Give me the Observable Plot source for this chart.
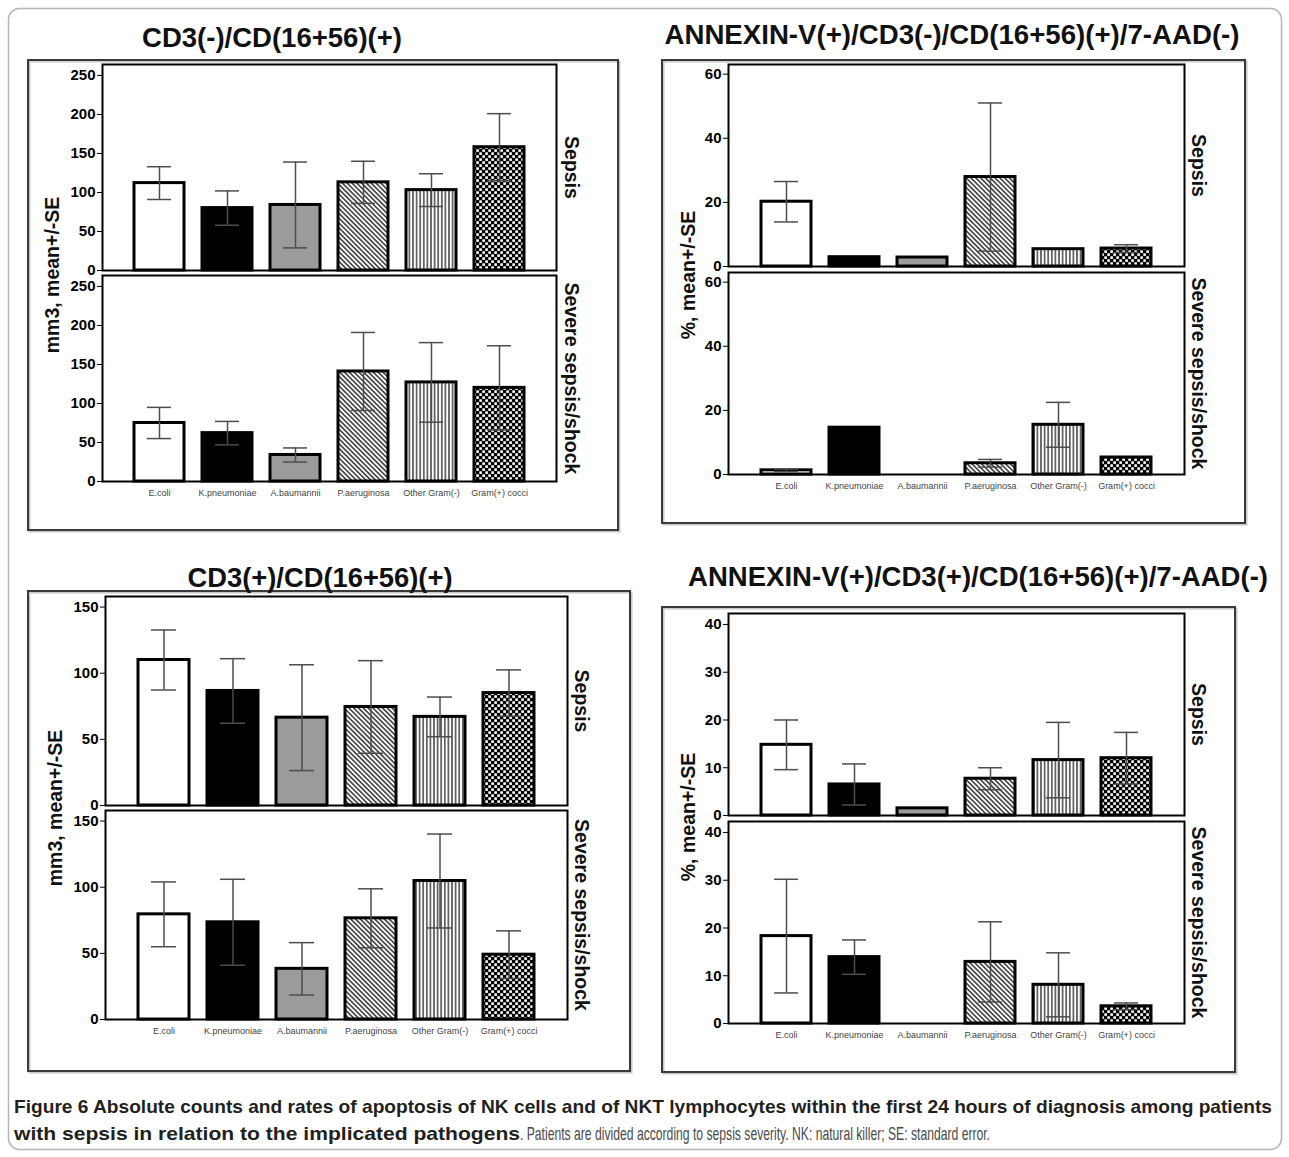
<!DOCTYPE html>
<html>
<head>
<meta charset="utf-8">
<script src="https://cdn.jsdelivr.net/npm/d3@7"></script>
<script src="https://cdn.jsdelivr.net/npm/@observablehq/plot@0.6"></script>
<style>
html,body{margin:0;padding:0;background:#fff;}
#fig{position:relative;width:1289px;height:1157px;overflow:hidden;font-family:"Liberation Sans",Arial,sans-serif;}
.plotwrap{position:absolute;}
.plotwrap svg{overflow:visible;}
.plotwrap [aria-label="y-axis tick label"], .plotwrap [aria-label="y-axis"] text{font-weight:bold;font-size:15px;}
.plotwrap [aria-label="x-axis tick label"], .plotwrap [aria-label="x-axis"] text{font-size:9px;fill:#444;color:#444;}
</style>
</head>
<body>
<svg width="0" height="0" style="position:absolute">
  <defs>
    <pattern id="hatch" patternUnits="userSpaceOnUse" width="3.4" height="3.4" patternTransform="rotate(-45)">
      <rect width="3.4" height="3.4" fill="white"/>
      <line x1="1.7" y1="0" x2="1.7" y2="3.4" stroke="black" stroke-width="1.2"/>
    </pattern>
    <pattern id="vlines" patternUnits="userSpaceOnUse" width="3.6" height="10">
      <rect width="3.6" height="10" fill="white"/>
      <line x1="1.8" y1="0" x2="1.8" y2="10" stroke="black" stroke-width="1.1"/>
    </pattern>
    <pattern id="checker" patternUnits="userSpaceOnUse" width="6" height="6">
      <rect width="6" height="6" fill="black"/>
      <rect x="0.3" y="0.3" width="2.6" height="2.6" fill="white"/>
      <rect x="3.3" y="3.3" width="2.6" height="2.6" fill="white"/>
    </pattern>
  </defs>
</svg>
<div id="fig"></div>
<script>
// ---------------- data ----------------
const pathogens = ["E.coli", "K.pneumoniae", "A.baumannii", "P.aeruginosa", "Other Gram(-)", "Gram(+) cocci"];
const severities = ["Sepsis", "Severe sepsis/shock"];

// CD3(-)/CD(16+56)(+)  (mm3, mean +/- SE)
const nkSepsisMean = [112, 80, 84, 113, 103, 158];
const nkSepsisSE   = [21, 22, 55, 27, 21, 43];
const nkSevereMean = [75, 62, 34, 141, 127, 120];
const nkSevereSE   = [20, 15, 9, 50, 51, 54];

// ANNEXIN-V(+)/CD3(-)/CD(16+56)(+)/7-AAD(-)  (%, mean +/- SE)
const nkApoSepsisMean = [20.2, 2.9, 2.8, 27.9, 5.4, 5.6];
const nkApoSepsisSE   = [6.3, 0, 0, 23.1, 0, 1.2];
const nkApoSevereMean = [1.3, 14.6, 0, 3.5, 15.5, 5.3];
const nkApoSevereSE   = [0.4, 0, 0, 1.2, 7, 0];

// CD3(+)/CD(16+56)(+)  (mm3, mean +/- SE)
const nktSepsisMean = [110, 86.6, 66.4, 74.5, 67, 85];
const nktSepsisSE   = [22.7, 24.4, 40, 35, 15, 17.5];
const nktSevereMean = [79.5, 73.5, 38.3, 76.5, 104.7, 49];
const nktSevereSE   = [24.5, 32.5, 19.8, 22.3, 35.5, 18];

// ANNEXIN-V(+)/CD3(+)/CD(16+56)(+)/7-AAD(-)  (%, mean +/- SE)
const nktApoSepsisMean = [14.8, 6.5, 1.5, 7.7, 11.6, 12];
const nktApoSepsisSE   = [5.2, 4.3, 0, 2.3, 7.9, 5.4];
const nktApoSevereMean = [18.3, 13.9, 0, 12.9, 8.1, 3.6];
const nktApoSevereSE   = [11.9, 3.6, 0, 8.4, 6.7, 0.7];

const titles = [
  "CD3(-)/CD(16+56)(+)",
  "ANNEXIN-V(+)/CD3(-)/CD(16+56)(+)/7-AAD(-)",
  "CD3(+)/CD(16+56)(+)",
  "ANNEXIN-V(+)/CD3(+)/CD(16+56)(+)/7-AAD(-)"
];
const yLabels = ["mm3, mean+/-SE", "%, mean+/-SE"];
const captionBold1 = "Figure 6 Absolute counts and rates of apoptosis of NK cells and of NKT lymphocytes within the first 24 hours of diagnosis among patients";
const captionBold2 = "with sepsis in relation to the implicated pathogens";
const captionRest = ". Patients are divided according to sepsis severity. NK: natural killer; SE: standard error.";

// ---------------- styles ----------------
const FONT = "'Liberation Sans', Arial, sans-serif";
const CAPFONT = "'Liberation Sans Narrow', 'Liberation Sans', Arial, sans-serif";
const fills = {
  "E.coli": "white",
  "K.pneumoniae": "black",
  "A.baumannii": "#9b9b9b",
  "P.aeruginosa": "url(#hatch)",
  "Other Gram(-)": "url(#vlines)",
  "Gram(+) cocci": "url(#checker)"
};

const fig = document.getElementById("fig");
const NS = "http://www.w3.org/2000/svg";
const overlay = document.createElementNS(NS, "svg");
overlay.setAttribute("width", 1289);
overlay.setAttribute("height", 1157);
overlay.style.position = "absolute";
overlay.style.left = "0px";
overlay.style.top = "0px";
fig.appendChild(overlay);

function el(tag, attrs, parent = overlay) {
  const e = document.createElementNS(NS, tag);
  for (const k in attrs) e.setAttribute(k, attrs[k]);
  parent.appendChild(e);
  return e;
}

// outer figure border
el("rect", {x: 8.5, y: 8.5, width: 1273, height: 1141, rx: 11, fill: "none", stroke: "#b5b5b5", "stroke-width": 1.5});

// panel frames
const frames = [
  [28, 60, 590, 470],
  [662, 60, 583, 463],
  [28, 591, 602, 480],
  [662, 607, 573, 465]
];
for (const [x, y, w, h] of frames) {
  el("rect", {x: x + 1.5, y: y + 1.5, width: w, height: h, fill: "none", stroke: "#c8c8c8", "stroke-width": 2});
  el("rect", {x, y, width: w, height: h, fill: "none", stroke: "#3a3a3a", "stroke-width": 2});
}

// titles
const titlePos = [[272, 47, 260], [952, 44, 575], [320, 587, 265], [978, 586, 580]];
titles.forEach((t, i) => {
  const [x, y, len] = titlePos[i];
  const e = el("text", {x, y, "text-anchor": "middle", "font-family": FONT, "font-weight": "bold", "font-size": 27, fill: "#111", textLength: len, lengthAdjust: "spacingAndGlyphs"});
  e.textContent = t;
});

// y axis labels
const yLabPos = [[52, 275, 0], [688, 275, 1], [55, 808, 0], [688, 817, 1]];
for (const [x, y, k] of yLabPos) {
  const e = el("text", {x: 0, y: 0, transform: `translate(${x},${y}) rotate(-90)`, "text-anchor": "middle", "dominant-baseline": "central", "font-family": FONT, "font-weight": "bold", "font-size": 19.5, fill: "#111"});
  e.textContent = yLabels[k];
}

// caption
{
  const t1 = el("text", {x: 14, y: 1113, "font-family": CAPFONT, "font-weight": "bold", "font-size": 18.5, fill: "#231f20", textLength: 1258, lengthAdjust: "spacingAndGlyphs"});
  t1.textContent = captionBold1;
  const t2 = el("text", {x: 14, y: 1140, "font-family": CAPFONT, "font-weight": "bold", "font-size": 18.5, fill: "#231f20", textLength: 506, lengthAdjust: "spacingAndGlyphs"});
  t2.textContent = captionBold2;
  const t3 = el("text", {x: 520, y: 1140, "font-family": CAPFONT, "font-size": 18.5, fill: "#4a4a4a", textLength: 470, lengthAdjust: "spacingAndGlyphs"});
  t3.textContent = captionRest;
}

// ---------------- panels ----------------
function buildRows(means, ses) {
  const rows = [];
  severities.forEach((s, si) => pathogens.forEach((p, pi) => {
    rows.push({severity: s, pathogen: p, mean: means[si][pi], se: ses[si][pi]});
  }));
  return rows;
}

function panel(cfg) {
  const rows = buildRows(cfg.means, cfg.ses);
  const bars = rows.filter(d => d.mean > 0);
  const errs = rows.filter(d => d.se > 0).map(d => ({...d, lo: Math.max(0, d.mean - d.se), hi: d.mean + d.se}));
  const errStyle = {x: "pathogen", fy: "severity", stroke: "#4d4d4d", strokeWidth: 1.5};
  const labels = severities.map(s => ({severity: s}));
  const chart = Plot.plot({
    width: cfg.w,
    height: cfg.h,
    marginLeft: cfg.ml,
    marginRight: cfg.mr,
    marginTop: cfg.mt,
    marginBottom: cfg.mb,
    style: {background: "transparent", fontFamily: FONT, overflow: "visible", color: "black"},
    x: {domain: pathogens, paddingInner: 0.265, paddingOuter: 0.47, tickSize: 0, tickPadding: 8, label: null},
    y: {domain: [0, cfg.yMax], ticks: cfg.ticks, tickSize: 5, tickPadding: 2, label: null},
    fy: {domain: severities, axis: null, paddingInner: cfg.fpad, paddingOuter: 0, label: null},
    color: {type: "identity"},
    marks: [
      Plot.barY(bars, {x: "pathogen", y: "mean", fy: "severity", fill: d => fills[d.pathogen], stroke: "black", strokeWidth: 3}),
      Plot.ruleX(errs, {...errStyle, y1: "lo", y2: "hi"}),
      Plot.tickY(errs, {...errStyle, y: "hi", insetLeft: 13, insetRight: 13}),
      Plot.tickY(errs, {...errStyle, y: "lo", insetLeft: 13, insetRight: 13}),
      Plot.frame({stroke: "black", strokeWidth: 2}),
      Plot.text(labels, {fy: "severity", text: "severity", frameAnchor: "right", textAnchor: "middle", lineAnchor: "middle", dx: cfg.dx, rotate: 90, fontSize: 19.5, fontWeight: "bold", fill: "#111"})
    ]
  });
  const wrap = document.createElement("div");
  wrap.className = "plotwrap";
  wrap.style.left = cfg.left + "px";
  wrap.style.top = cfg.top + "px";
  wrap.appendChild(chart);
  fig.appendChild(wrap);
}

panel({
  means: [nkSepsisMean, nkSevereMean], ses: [nkSepsisSE, nkSevereSE],
  yMax: 264, ticks: [0, 50, 100, 150, 200, 250],
  left: 62, top: 58, w: 540, h: 452, ml: 40, mr: 46, mt: 5, mb: 29, fpad: 0.024, dx: 15
});
panel({
  means: [nkApoSepsisMean, nkApoSevereMean], ses: [nkApoSepsisSE, nkApoSevereSE],
  yMax: 63, ticks: [0, 20, 40, 60],
  left: 690, top: 58, w: 540, h: 447, ml: 38, mr: 46, mt: 6, mb: 31, fpad: 0.029, dx: 14
});
panel({
  means: [nktSepsisMean, nktSevereMean], ses: [nktSepsisSE, nktSevereSE],
  yMax: 158, ticks: [0, 50, 100, 150],
  left: 65, top: 590, w: 550, h: 465, ml: 40, mr: 48, mt: 6, mb: 35, fpad: 0.023, dx: 14
});
panel({
  means: [nktApoSepsisMean, nktApoSevereMean], ses: [nktApoSepsisSE, nktApoSevereSE],
  yMax: 42.3, ticks: [0, 10, 20, 30, 40],
  left: 690, top: 606, w: 540, h: 449, ml: 38, mr: 46, mt: 6, mb: 32, fpad: 0.029, dx: 14
});
</script>
</body>
</html>
